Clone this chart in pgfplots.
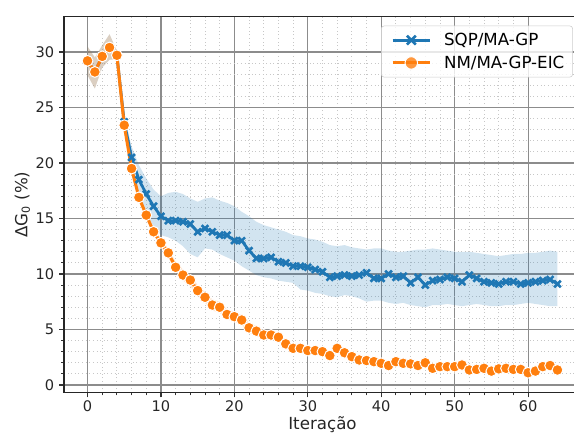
\documentclass[border=0pt]{standalone}
\usepackage{pgfplots}
\pgfplotsset{compat=1.18}
\usepackage{pgfplotstable}
\usepgfplotslibrary{fillbetween}
\usepackage{fontspec}
\setmainfont{DejaVu Sans}
\definecolor{c0}{RGB}{31,119,180}
\definecolor{c1}{RGB}{255,127,14}

\pgfplotstableread{
x bm bl bu om ol ou
0 29.2 27.9 30.5 29.2 27.9 30.5
1 28.2 26.7 29.5 28.2 26.7 29.5
2 29.6 28.6 30.6 29.6 28.6 30.6
3 30.4 29.3 31.6 30.4 29.3 31.6
4 29.7 29.3 30.1 29.7 29.3 30.1
5 23.7 23.1 24.3 23.4 23.0 23.8
6 20.5 19.6 21.5 19.5 19.2 19.8
7 18.5 17.2 19.8 16.9 16.6 17.2
8 17.2 15.5 18.6 15.3 15.0 15.6
9 16.1 14.3 17.6 13.8 13.5 14.2
10 15.2 13.5 17.0 12.8 12.4 13.2
11 14.8 13.3 17.3 11.9 11.5 12.3
12 14.8 13.0 17.4 10.6 10.2 11.1
13 14.7 12.5 17.2 9.9 9.4 10.4
14 14.5 11.8 16.8 9.45 8.9 9.9
15 13.8 11.5 16.5 8.5 8.0 9.0
16 14.1 12.3 16.8 7.9 7.4 8.4
17 13.8 12.2 16.9 7.2 6.7 7.7
18 13.5 11.8 16.6 7.0 6.5 7.5
19 13.5 11.5 16.4 6.35 5.9 6.8
20 13.0 11.2 16.1 6.15 5.7 6.6
21 13.0 10.7 15.6 5.85 5.4 6.3
22 12.1 10.3 15.2 5.15 4.7 5.6
23 11.4 9.9 14.7 4.85 4.4 5.3
24 11.4 9.7 14.4 4.5 4.1 4.9
25 11.5 9.6 14.2 4.5 4.1 4.9
26 11.1 9.4 14.0 4.3 3.9 4.7
27 11.0 9.3 13.8 3.7 3.3 4.1
28 10.7 9.2 13.5 3.3 3.0 3.6
29 10.7 8.6 13.4 3.3 3.0 3.6
30 10.6 8.5 13.2 3.1 2.8 3.4
31 10.4 8.3 13.1 3.1 2.8 3.4
32 10.2 8.2 12.9 3.0 2.7 3.3
33 9.7 8.0 12.6 2.65 2.4 2.9
34 9.8 7.9 12.5 3.3 3.0 3.6
35 9.9 8.1 12.6 2.9 2.6 3.2
36 9.8 8.0 12.4 2.55 2.3 2.8
37 9.9 7.8 12.3 2.25 2.0 2.5
38 10.1 7.5 12.2 2.2 2.0 2.4
39 9.6 7.6 12.3 2.1 1.9 2.3
40 9.6 7.6 12.3 1.95 1.75 2.15
41 10.0 7.4 12.1 1.75 1.55 1.95
42 9.7 7.3 12.0 2.1 1.9 2.3
43 9.8 7.4 12.0 1.95 1.75 2.15
44 9.2 7.2 12.1 1.9 1.7 2.1
45 9.7 7.1 12.2 1.75 1.55 1.95
46 9.0 7.0 12.2 2.0 1.8 2.2
47 9.4 7.2 12.3 1.5 1.3 1.7
48 9.5 7.2 12.2 1.65 1.45 1.85
49 9.7 7.3 12.1 1.65 1.45 1.85
50 9.6 7.2 12.0 1.65 1.45 1.85
51 9.3 7.1 12.0 1.8 1.6 2.0
52 9.9 7.2 12.0 1.35 1.15 1.55
53 9.6 7.3 11.9 1.4 1.2 1.6
54 9.3 7.2 11.8 1.5 1.3 1.7
55 9.2 7.1 11.7 1.25 1.05 1.45
56 9.1 7.1 11.6 1.45 1.25 1.65
57 9.3 7.2 11.7 1.5 1.3 1.7
58 9.3 7.2 11.8 1.4 1.2 1.6
59 9.1 7.3 11.8 1.4 1.2 1.6
60 9.2 7.4 11.9 1.1 0.9 1.3
61 9.3 7.3 11.9 1.25 1.05 1.45
62 9.4 7.2 12.0 1.65 1.45 1.85
63 9.5 7.1 12.1 1.75 1.55 1.95
64 9.1 7.1 12.0 1.35 1.15 1.55
}\data

\begin{document}
\begin{tikzpicture}
\begin{axis}[
  scale only axis,
  width=372.2pt, height=270.7pt,
  xmin=-3.2, xmax=67.2,
  ymin=-0.69, ymax=33.18,
  xtick={0,10,...,60},
  ytick={0,5,...,30},
  minor x tick num=4,
  minor y tick num=4,
  tick align=outside,
  xtick pos=bottom, ytick pos=left,
  major tick length=3.5pt, minor tick length=2pt,
  every tick/.style={black!80, line width=0.8pt},
  minor tick style={black!80, line width=0.6pt},
  grid=both,
  major grid style={line width=0.8pt, draw=black!45},
  minor grid style={line width=0.6pt, draw=black!22, dotted},
  axis line style={line width=0.8pt, draw=black!85},
  /pgf/number format/assume math mode=true,
  tick label style={font=\fontsize{10.5}{12}\selectfont, text=black!85},
  xticklabel style={yshift=1.5pt},
  xlabel={Iteração},
  ylabel={ΔG\textsubscript{0} (\%)},
  every axis x label/.style={at={(rel axis cs:0.5,0)}, anchor=center, yshift=-23pt, font=\fontsize{12}{14}\selectfont, text=black!85},
  every axis y label/.style={at={(rel axis cs:0,0.5)}, anchor=center, xshift=-30pt, rotate=90, font=\fontsize{12}{14}\selectfont, text=black!85},
  legend style={at={(rel axis cs:1,1)}, anchor=north east, xshift=-5.8pt, yshift=-6.5pt,
    draw=black!20, rounded corners=2pt, fill=white, fill opacity=0.8, text opacity=1,
    font=\fontsize{12}{14}\selectfont, inner xsep=4pt, inner ysep=3pt, row sep=2pt},
  legend cell align=left,
  legend image code/.code={\path (-3pt,0pt) (34pt,0pt); \draw[#1, mark=none] (0pt,0pt) -- (27pt,0pt); \draw[#1, only marks, mark size=4.5pt] plot coordinates {(13.5pt,0pt)};},
]
\addplot[name path=bu, draw=none, forget plot] table[x=x, y=bu]{\data};
\addplot[name path=bl, draw=none, forget plot] table[x=x, y=bl]{\data};
\addplot[c0, fill opacity=0.2, forget plot] fill between[of=bu and bl];
\addplot[c0, line width=2pt, mark=x, mark size=3.4pt, mark options={solid, line width=1.9pt}] table[x=x, y=bm]{\data};
\addlegendentry{SQP/MA-GP}
\addplot[name path=ou, draw=none, forget plot] table[x=x, y=ou]{\data};
\addplot[name path=ol, draw=none, forget plot] table[x=x, y=ol]{\data};
\addplot[c1, fill opacity=0.2, forget plot] fill between[of=ou and ol];
\addplot[c1, line width=2.2pt, mark=*, mark size=3.9pt, mark options={solid, fill=c1, draw=white, line width=0.7pt}] table[x=x, y=om]{\data};
\addlegendentry{NM/MA-GP-EIC}
\end{axis}
\pgfresetboundingbox
\path[use as bounding box] ([xshift=-46.1pt,yshift=-30.5pt]current axis.south west) rectangle ([xshift=-5pt,yshift=12pt]current axis.north east);
\end{tikzpicture}
\end{document}
